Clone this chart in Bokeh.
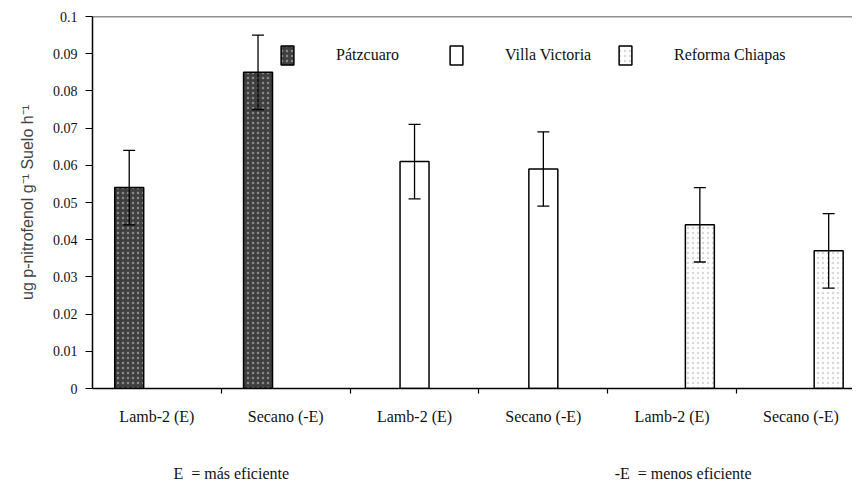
from bokeh.plotting import figure
from bokeh.models import (ColumnDataSource, Range1d, FixedTicker, LinearAxis, Whisker,
                          TeeHead, Span, Legend, LegendItem)
from bokeh.embed import file_html
from bokeh.resources import INLINE

# ---- data ----
categories = ["Lamb-2 (E)", "Secano (-E)", "Lamb-2 (E)", "Secano (-E)", "Lamb-2 (E)", "Secano (-E)"]
series_names = ["Pátzcuaro", "Villa Victoria", "Reforma Chiapas"]
bar_series = [0, 0, 1, 1, 2, 2]
bar_values = [0.054, 0.085, 0.061, 0.059, 0.044, 0.037]
bar_errors = [0.010, 0.010, 0.010, 0.010, 0.010, 0.010]
ytick_values = [0, 0.01, 0.02, 0.03, 0.04, 0.05, 0.06, 0.07, 0.08, 0.09, 0.1]
ytick_labels = ["0", "0.01", "0.02", "0.03", "0.04", "0.05", "0.06", "0.07", "0.08", "0.09", "0.1"]
footnotes = ["E\u00a0 = más eficiente", "-E\u00a0 = menos eficiente"]
footnote_pos = [1.077, 4.585]
y_title = "ug p-nitrofenol g\u207b\u00b9 Suelo h\u207b\u00b9"

# ---- styles ----
slot_offset = [-0.215, 0.0, 0.215]
bar_width = 0.225
fills = ["#3f3f3f", "white", "white"]
hatch = ["dot", None, "dot"]
hatch_colors = ["#8a8a8a", "#ffffff", "#d8d8d8"]
SERIF = "Liberation Serif"

p = figure(width=852, height=484, output_backend="svg", toolbar_location=None,
           x_range=Range1d(0, 5.9), y_range=Range1d(0, 0.1),
           min_border_left=92, min_border_right=0, min_border_top=16, min_border_bottom=90,
           background_fill_color="white", border_fill_color="white")
p.xgrid.visible = False
p.ygrid.visible = False
p.outline_line_color = None

renderers = []
for s, name in enumerate(series_names):
    idx = [i for i, b in enumerate(bar_series) if b == s]
    src = ColumnDataSource(dict(
        x=[i + 0.5 + slot_offset[s] for i in idx],
        top=[bar_values[i] for i in idx],
    ))
    kw = dict(fill_color=fills[s], line_color="black", line_width=1.5)
    if hatch[s]:
        kw.update(hatch_pattern=hatch[s], hatch_color=hatch_colors[s], hatch_scale=5, hatch_weight=1)
    r = p.vbar(x="x", top="top", width=bar_width, bottom=0, source=src, **kw)
    renderers.append(r)

err_src = ColumnDataSource(dict(
    x=[i + 0.5 + slot_offset[bar_series[i]] for i in range(len(bar_values))],
    upper=[v + e for v, e in zip(bar_values, bar_errors)],
    lower=[v - e for v, e in zip(bar_values, bar_errors)],
))
p.add_layout(Whisker(base="x", upper="upper", lower="lower", source=err_src,
                     line_color="black", line_width=1.3, level="overlay",
                     upper_head=TeeHead(size=12, line_color="black", line_width=1.3),
                     lower_head=TeeHead(size=12, line_color="black", line_width=1.3)))

p.add_layout(Span(location=0.1, dimension="width", line_color="#222222", line_width=1.5))

# y axis
ya = p.yaxis[0]
ya.ticker = FixedTicker(ticks=ytick_values, minor_ticks=[])
ya.major_label_overrides = {v: l for v, l in zip(ytick_values, ytick_labels)}
ya.major_tick_out = 7
ya.major_tick_in = 0
ya.minor_tick_out = 0
ya.axis_line_color = "black"
ya.axis_line_width = 1.5
ya.major_tick_line_width = 1.2
ya.major_label_text_font = SERIF
ya.major_label_text_font_size = "14px"
ya.major_label_text_color = "#111111"
ya.major_label_standoff = 8
ya.axis_label = y_title
ya.axis_label_text_font = "Liberation Sans"
ya.axis_label_text_font_style = "normal"
ya.axis_label_text_font_size = "16px"
ya.axis_label_standoff = 14

# x axis (categories)
cat_centers = [i + 0.5 for i in range(len(categories))]
xa = p.xaxis[0]
xa.ticker = FixedTicker(ticks=cat_centers, minor_ticks=[i for i in range(1, len(categories))])
xa.major_label_overrides = {c: l for c, l in zip(cat_centers, categories)}
xa.major_tick_out = 0
xa.major_tick_in = 0
xa.minor_tick_out = 5
xa.minor_tick_in = 0
xa.minor_tick_line_width = 1.2
xa.axis_line_color = "black"
xa.axis_line_width = 1.5
xa.major_label_text_font = SERIF
xa.major_label_text_font_size = "16px"
xa.major_label_text_color = "#111111"
xa.major_label_standoff = 14

# footnotes as a second, line-less axis
fa = LinearAxis(ticker=FixedTicker(ticks=footnote_pos, minor_ticks=[]),
                major_label_overrides={v: l for v, l in zip(footnote_pos, footnotes)},
                axis_line_color=None, major_tick_line_color=None, minor_tick_line_color=None,
                major_label_text_font=SERIF, major_label_text_font_size="16px",
                major_label_text_color="#111111", major_label_standoff=31)
p.add_layout(fa, "below")

legend = Legend(items=[LegendItem(label=n, renderers=[r]) for n, r in zip(series_names, renderers)],
                location=(187, 321), orientation="horizontal", padding=0, margin=0, spacing=2,
                glyph_width=16, glyph_height=24, label_height=24, label_width=110,
                label_standoff=41, border_line_color=None, background_fill_alpha=0,
                label_text_font=SERIF, label_text_font_size="16px", label_text_color="#111111")
p.add_layout(legend)

open("out.html", "w").write(file_html(p, INLINE))
